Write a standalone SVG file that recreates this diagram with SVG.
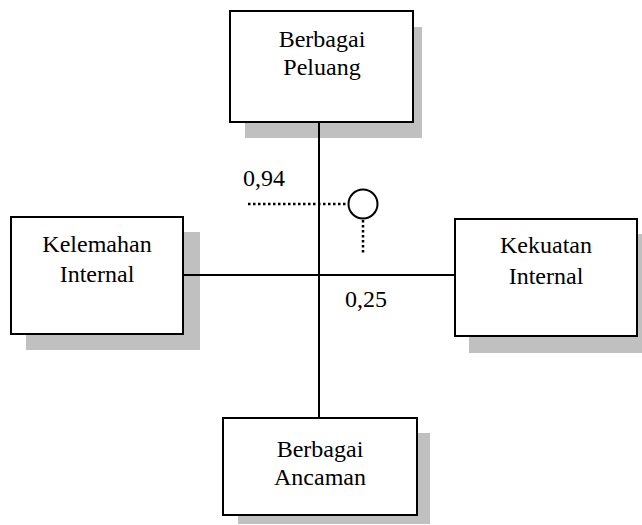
<svg xmlns="http://www.w3.org/2000/svg" width="642" height="525" viewBox="0 0 642 525">
<style>
.shadow{fill:#c0c0c0;stroke:none}
.box{fill:#fff;stroke:#000;stroke-width:2}
.line{stroke:#000;stroke-width:2;fill:none}
.dot{stroke:#000;stroke-width:2.5;stroke-dasharray:2.5 2.5;fill:none}
</style>
<rect width="642" height="525" fill="#fff"/>
<g id="peluang">
<rect class="shadow" x="245" y="27" width="177" height="111"/>
<rect class="box" x="230" y="11" width="183" height="111"/>
<text x="322" y="47" text-anchor="middle" style="font-family:'Liberation Serif',serif;font-size:24px;fill:#000">Berbagai</text>
<text x="322" y="75" text-anchor="middle" style="font-family:'Liberation Serif',serif;font-size:24px;fill:#000">Peluang</text>
</g>
<g id="kelemahan">
<rect class="shadow" x="26" y="232" width="174" height="118"/>
<rect class="box" x="11" y="217" width="172" height="117"/>
<text x="97" y="252" text-anchor="middle" style="font-family:'Liberation Serif',serif;font-size:24px;fill:#000">Kelemahan</text>
<text x="97" y="282" text-anchor="middle" style="font-family:'Liberation Serif',serif;font-size:24px;fill:#000">Internal</text>
</g>
<g id="kekuatan">
<rect class="shadow" x="469" y="234" width="173" height="119"/>
<rect class="box" x="455" y="219" width="182" height="117"/>
<text x="546" y="253" text-anchor="middle" style="font-family:'Liberation Serif',serif;font-size:24px;fill:#000">Kekuatan</text>
<text x="546" y="284" text-anchor="middle" style="font-family:'Liberation Serif',serif;font-size:24px;fill:#000">Internal</text>
</g>
<g id="ancaman">
<rect class="shadow" x="238" y="433" width="192" height="91"/>
<rect class="box" x="223" y="418" width="194" height="97"/>
<text x="320" y="457" text-anchor="middle" style="font-family:'Liberation Serif',serif;font-size:24px;fill:#000">Berbagai</text>
<text x="320" y="485" text-anchor="middle" style="font-family:'Liberation Serif',serif;font-size:24px;fill:#000">Ancaman</text>
</g>
<g id="connectors">
<line class="line" x1="319" y1="123" x2="319" y2="417"/>
<line class="line" x1="184" y1="275" x2="454" y2="275"/>
<line class="dot" x1="248" y1="204" x2="348" y2="204"/>
<line class="dot" x1="363" y1="220" x2="363" y2="255"/>
</g>
<g id="point">
<circle cx="363" cy="204" r="14.5" fill="#fff" stroke="#000" stroke-width="2"/>
</g>
<g id="labels">
<text x="243" y="186" style="font-family:'Liberation Serif',serif;font-size:24px;fill:#000">0,94</text>
<text x="345" y="307" style="font-family:'Liberation Serif',serif;font-size:24px;fill:#000">0,25</text>
</g>
</svg>
